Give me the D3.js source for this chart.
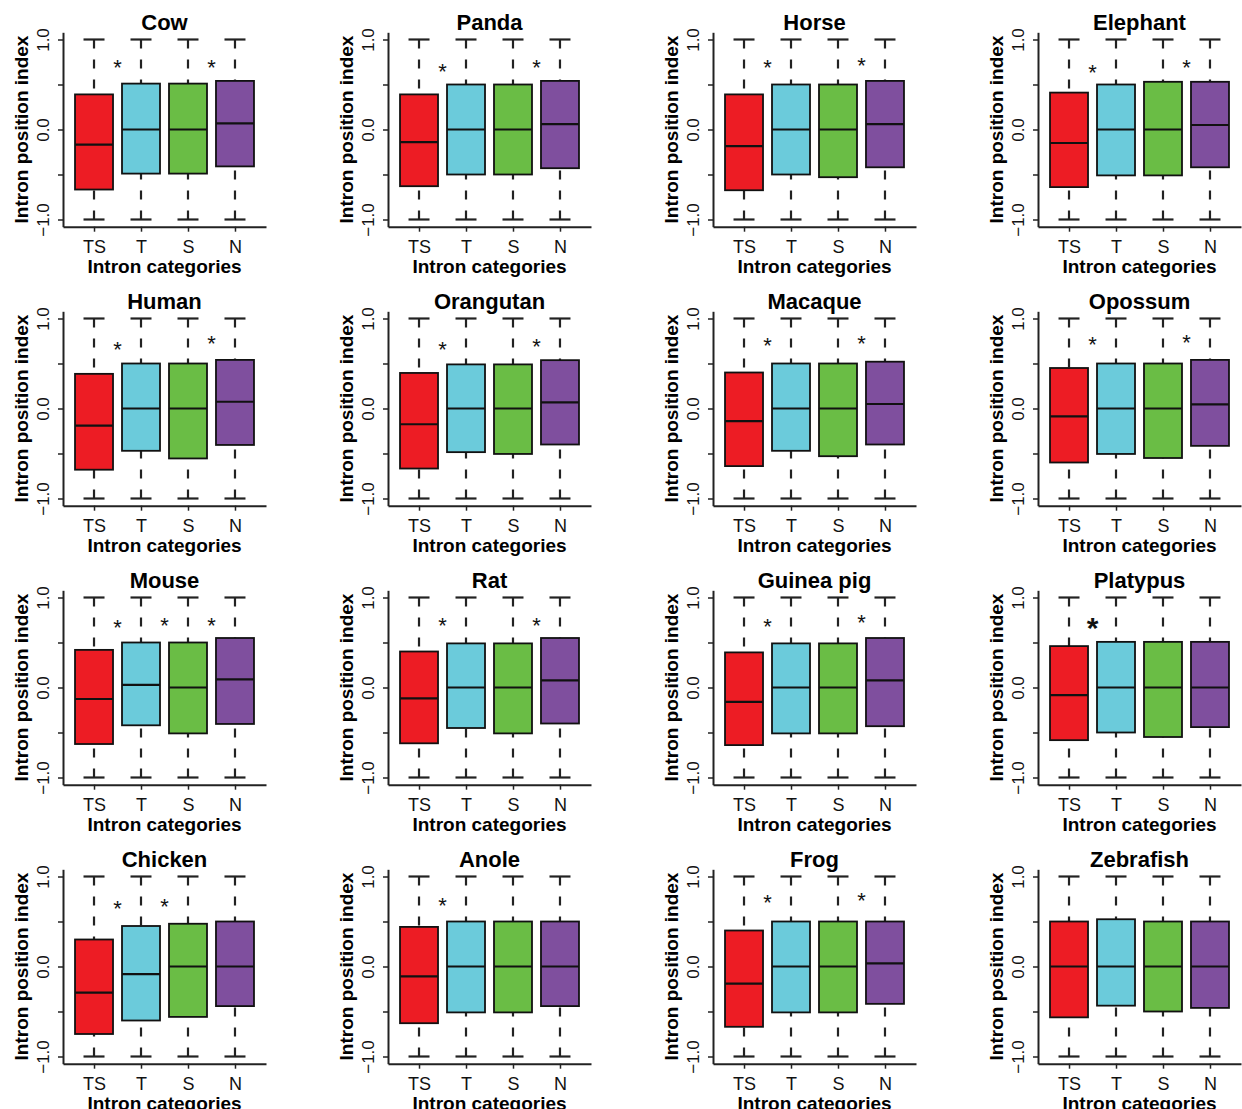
<!DOCTYPE html>
<html>
<head>
<meta charset="utf-8">
<script src="https://cdn.jsdelivr.net/npm/d3@7"></script>
<style>
  body { margin: 0; background: #fff; }
  svg { display: block; font-family: "Liberation Sans", Arial, sans-serif; }
</style>
</head>
<body>
<svg id="chart" width="1242" height="1109"></svg>
<script>
// data
var species = ["Cow", "Panda", "Horse", "Elephant",
               "Human", "Orangutan", "Macaque", "Opossum",
               "Mouse", "Rat", "Guinea pig", "Platypus",
               "Chicken", "Anole", "Frog", "Zebrafish"];
var categories = ["TS", "T", "S", "N"];
var colors = ["#ed1c24", "#6bcbdb", "#6abd45", "#7f4f9e"];

// upper quartile, median, lower quartile per species (TS, T, S, N)
var q3 = [
  [0.39, 0.51, 0.51, 0.54], [0.39, 0.50, 0.50, 0.54], [0.39, 0.50, 0.50, 0.54], [0.41, 0.50, 0.53, 0.53],
  [0.385, 0.50, 0.50, 0.54], [0.395, 0.49, 0.49, 0.537], [0.40, 0.50, 0.50, 0.52], [0.45, 0.50, 0.50, 0.54],
  [0.418, 0.50, 0.50, 0.55], [0.40, 0.49, 0.49, 0.55], [0.39, 0.49, 0.49, 0.55], [0.46, 0.507, 0.507, 0.507],
  [0.30, 0.45, 0.475, 0.50], [0.44, 0.50, 0.50, 0.50], [0.40, 0.50, 0.50, 0.50], [0.50, 0.525, 0.50, 0.50]
];
var med = [
  [-0.167, 0, 0, 0.067], [-0.14, 0, 0, 0.06], [-0.185, 0, 0, 0.06], [-0.15, 0, 0, 0.05],
  [-0.19, 0, 0, 0.075], [-0.175, 0, 0, 0.067], [-0.14, 0, 0, 0.05], [-0.087, 0, 0, 0.045],
  [-0.128, 0.03, 0, 0.09], [-0.12, 0, 0, 0.08], [-0.16, 0, 0, 0.08], [-0.085, 0, 0, 0],
  [-0.29, -0.085, 0, 0], [-0.11, 0, 0, 0], [-0.19, 0, 0, 0.035], [0, 0, 0, 0]
];
var q1 = [
  [-0.667, -0.49, -0.49, -0.41], [-0.63, -0.50, -0.50, -0.43], [-0.675, -0.50, -0.53, -0.42], [-0.64, -0.51, -0.51, -0.42],
  [-0.68, -0.47, -0.555, -0.405], [-0.667, -0.485, -0.505, -0.40], [-0.64, -0.47, -0.53, -0.40], [-0.60, -0.505, -0.55, -0.415],
  [-0.628, -0.42, -0.51, -0.405], [-0.62, -0.45, -0.51, -0.40], [-0.64, -0.51, -0.51, -0.43], [-0.585, -0.50, -0.55, -0.44],
  [-0.75, -0.60, -0.56, -0.44], [-0.63, -0.51, -0.51, -0.44], [-0.67, -0.51, -0.51, -0.415], [-0.565, -0.435, -0.50, -0.46]
];
var whiskers = [-1, 1];

// significance stars: gap index (0 = TS|T, 1 = T|S, 2 = S|N) and height
var starGaps = [
  [0, 2], [0, 2], [0, 2], [0, 2],
  [0, 2], [0, 2], [0, 2], [0, 2],
  [0, 1, 2], [0, 2], [0, 2], [0],
  [0, 1], [0], [0, 2], []
];
var starHeights = [
  [0.74, 0.75], [0.70, 0.74], [0.74, 0.77], [0.69, 0.75],
  [0.71, 0.775], [0.71, 0.75], [0.76, 0.78], [0.77, 0.79],
  [0.72, 0.75, 0.75], [0.74, 0.74], [0.73, 0.78], [0.74],
  [0.70, 0.72], [0.73], [0.77, 0.79], []
];

var yTicks = [-1, -0.5, 0, 0.5, 1];
var yTickLabels = {"-1": "\u22121.0", "0": "0.0", "1": "1.0"};

var svg = d3.select("#chart");
var colW = 325, rowH = 279;

var x = d3.scalePoint().domain(categories).range([63, 266]).padding(0.66);
var y = d3.scaleLinear().domain([-1.08, 1.08]).range([226.7, 32.3]);
var boxW = 38, capW = 21;

species.forEach(function(name, i) {
  var col = i % 4, row = Math.floor(i / 4);
  var g = svg.append("g").attr("transform", "translate(" + (col * colW) + "," + (row * rowH) + ")");

  var rows = categories.map(function(c, j) {
    return {cat: c, color: colors[j], q1: q1[i][j], med: med[i][j], q3: q3[i][j]};
  });

  // whiskers (dashed, drawn from caps toward box)
  g.selectAll(".wu").data(rows).enter().append("line")
    .attr("x1", function(d) { return x(d.cat); }).attr("x2", function(d) { return x(d.cat); })
    .attr("y1", y(whiskers[1])).attr("y2", function(d) { return y(d.q3); })
    .attr("stroke", "#222").attr("stroke-width", 2.2).attr("stroke-dasharray", "9,11");
  g.selectAll(".wl").data(rows).enter().append("line")
    .attr("x1", function(d) { return x(d.cat); }).attr("x2", function(d) { return x(d.cat); })
    .attr("y1", y(whiskers[0])).attr("y2", function(d) { return y(d.q1); })
    .attr("stroke", "#222").attr("stroke-width", 2.2).attr("stroke-dasharray", "9,11");

  // caps
  whiskers.forEach(function(w) {
    g.selectAll(null).data(rows).enter().append("line")
      .attr("x1", function(d) { return x(d.cat) - capW / 2; })
      .attr("x2", function(d) { return x(d.cat) + capW / 2; })
      .attr("y1", y(w)).attr("y2", y(w))
      .attr("stroke", "#222").attr("stroke-width", 2.2);
  });

  // boxes
  g.selectAll(".box").data(rows).enter().append("rect")
    .attr("x", function(d) { return x(d.cat) - boxW / 2; })
    .attr("y", function(d) { return y(d.q3); })
    .attr("width", boxW)
    .attr("height", function(d) { return y(d.q1) - y(d.q3); })
    .attr("fill", function(d) { return d.color; })
    .attr("stroke", "#111").attr("stroke-width", 1.8);

  // medians
  g.selectAll(".med").data(rows).enter().append("line")
    .attr("x1", function(d) { return x(d.cat) - boxW / 2; })
    .attr("x2", function(d) { return x(d.cat) + boxW / 2; })
    .attr("y1", function(d) { return y(d.med); })
    .attr("y2", function(d) { return y(d.med); })
    .attr("stroke", "#111").attr("stroke-width", 2.2);

  // stars
  var big = name === "Platypus";
  g.selectAll(".star").data(starGaps[i]).enter().append("text")
    .attr("x", function(gp) { return (x(categories[gp]) + x(categories[gp + 1])) / 2; })
    .attr("y", function(gp, k) { return y(starHeights[i][k]) + (big ? 17 : 12.5); })
    .attr("text-anchor", "middle")
    .attr("font-size", big ? 30 : 22)
    .attr("font-weight", big ? "bold" : "normal")
    .attr("fill", "#111")
    .text("*");

  // y axis
  var ya = g.append("g").attr("transform", "translate(63,0)")
    .call(d3.axisLeft(y).tickValues(yTicks).tickSize(5).tickSizeOuter(0)
      .tickFormat(function(d) { return yTickLabels[String(d)] || ""; }));
  ya.select(".domain").attr("stroke", "#222").attr("stroke-width", 2);
  ya.selectAll(".tick line").attr("stroke", "#222").attr("stroke-width", 1.5);
  ya.selectAll(".tick text")
    .attr("x", 0).attr("dy", 0)
    .attr("text-anchor", "middle")
    .attr("transform", "translate(-14,0) rotate(-90)")
    .attr("font-size", 17).attr("fill", "#111")
    .attr("font-family", "Liberation Sans, Arial, sans-serif");

  // x axis
  var xa = g.append("g").attr("transform", "translate(0," + y(-1.08) + ")")
    .call(d3.axisBottom(x).tickSize(5).tickSizeOuter(0));
  xa.select(".domain").attr("stroke", "#222").attr("stroke-width", 2);
  xa.selectAll(".tick line").attr("stroke", "#222").attr("stroke-width", 1.5);
  xa.selectAll(".tick text")
    .attr("y", 26.5).attr("dy", 0)
    .attr("font-size", 18).attr("fill", "#111")
    .attr("font-family", "Liberation Sans, Arial, sans-serif");

  // titles
  g.append("text")
    .attr("x", 164.5).attr("y", 30)
    .attr("text-anchor", "middle")
    .attr("font-size", 22).attr("font-weight", "bold")
    .text(name);
  g.append("text")
    .attr("x", 164.5).attr("y", 273)
    .attr("text-anchor", "middle")
    .attr("font-size", 19).attr("font-weight", "bold")
    .text("Intron categories");
  g.append("text")
    .attr("transform", "translate(28," + y(0) + ") rotate(-90)")
    .attr("text-anchor", "middle")
    .attr("font-size", 19).attr("font-weight", "bold")
    .text("Intron position index");
});
</script>
</body>
</html>
